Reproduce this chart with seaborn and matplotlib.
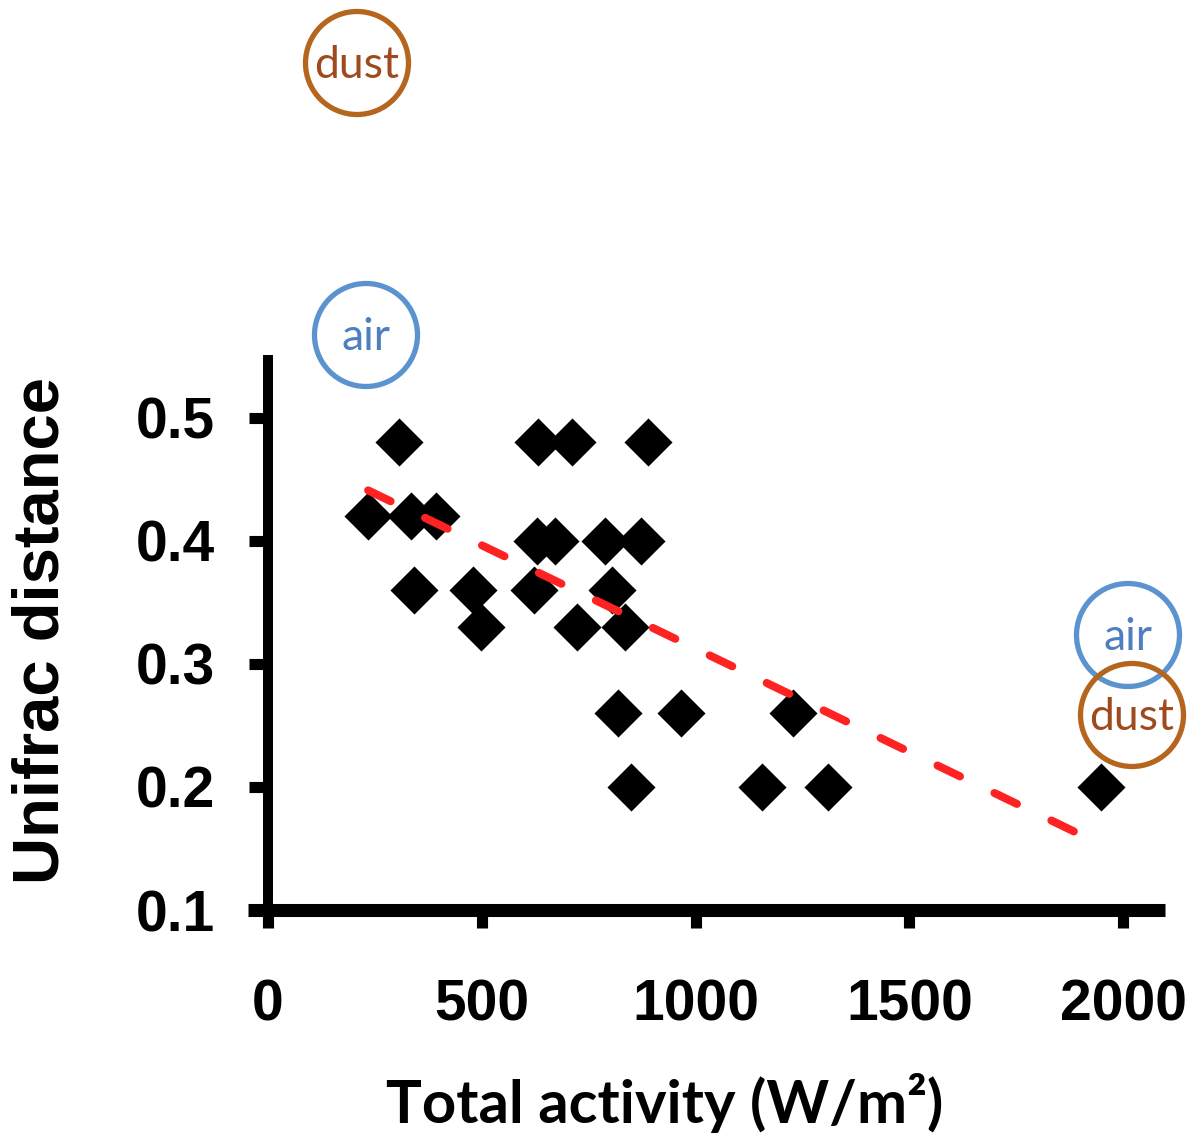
import matplotlib
matplotlib.use("Agg")
import matplotlib.pyplot as plt
import seaborn as sns
import pandas as pd
from matplotlib.patches import Circle

# ---- data ----
activity = [234, 306, 334, 393, 342, 480, 498,
            632, 711, 889,
            629, 671, 788, 873,
            622, 805, 723, 835,
            819, 967, 1228,
            850, 1155, 1310, 1948]
unifrac = [0.42, 0.48, 0.42, 0.42, 0.36, 0.36, 0.33,
           0.48, 0.48, 0.48,
           0.40, 0.40, 0.40, 0.40,
           0.36, 0.36, 0.33, 0.33,
           0.26, 0.26, 0.26,
           0.20, 0.20, 0.20, 0.20]
fit_x = [234, 1890]
fit_y = [0.441, 0.163]
x_ticks = [0, 500, 1000, 1500, 2000]
y_ticks = [0.1, 0.2, 0.3, 0.4, 0.5]
x_tick_labels = ["0", "500", "1000", "1500", "2000"]
y_tick_labels = ["0.1", "0.2", "0.3", "0.4", "0.5"]
circle_labels = ["dust", "air", "air", "dust"]

df = pd.DataFrame({"activity": activity, "unifrac": unifrac})

sns.set_theme(style="white")
plt.rcParams["font.family"] = ["Liberation Sans", "DejaVu Sans"]

W, H = 1193, 1134
fig = plt.figure(figsize=(W / 100, H / 100), dpi=100)
ax = fig.add_axes([248 / W, (H - 910) / H, (1165 - 248) / W, (910 - 355) / H])

sns.scatterplot(data=df, x="activity", y="unifrac", marker="D", s=34 ** 2 * 0.5184,
                color="black", linewidth=0, ax=ax, zorder=3)
ax.plot(fit_x, fit_y, color="#FF2222", linewidth=5.8, dashes=(3.1, 4.75),
        dash_capstyle="round", zorder=4)

ax.set_xlim(-47, 2098)
ax.set_ylim(0.1, 0.551)
ax.set_xticks(x_ticks)
ax.set_xticklabels(x_tick_labels)
ax.set_yticks(y_ticks)
ax.set_yticklabels(y_tick_labels)

for s in ["top", "right"]:
    ax.spines[s].set_visible(False)
ax.spines["left"].set_position(("data", 0))
ax.spines["left"].set_linewidth(7.2)
ax.spines["bottom"].set_linewidth(9.4)
ax.spines["left"].set_color("black")
ax.spines["bottom"].set_color("black")
ax.spines["left"].set_capstyle("butt")
ax.spines["bottom"].set_capstyle("butt")

ax.tick_params(axis="x", bottom=True, direction="out", length=13, width=8,
               color="black", pad=36, labelsize=41, labelcolor="black")
ax.tick_params(axis="y", left=True, direction="out", length=14, width=8,
               color="black", pad=24, labelsize=41, labelcolor="black")
for lab in ax.get_xticklabels() + ax.get_yticklabels():
    lab.set_fontweight("bold")
    lab.set_color("black")

ax.set_xlabel("Total activity (W/m²)", fontsize=43, fontweight="bold",
              family=["Lato", "DejaVu Sans"], va="center", color="black")
ax.xaxis.set_label_coords((665 - 248) / 917, -(1103 - 910) / 555)
ax.set_ylabel("Unifrac distance", fontsize=47, fontweight="bold", va="center",
              color="black")
ax.yaxis.set_label_coords((42 - 248) / 917, (910 - 630) / 555)

# circled annotations (figure pixel positions)
circ_specs = [
    (357, 63, "#B5651D", "#9E4A1E"),
    (366, 335, "#5B93CF", "#4F7FBF"),
    (1128, 635, "#5B93CF", "#4F7FBF"),
    (1132, 715, "#B5651D", "#9E4A1E"),
]
for (cx, cy, ec, tc), txt in zip(circ_specs, circle_labels):
    c = Circle((cx / 100, (H - cy) / 100), 0.515, transform=fig.dpi_scale_trans,
               fill=False, edgecolor=ec, linewidth=3.8, zorder=5)
    fig.patches.append(c)
    c.set_figure(fig)
    fig.text(cx / W, (H - cy - 2) / H, txt, ha="center", va="center", fontsize=32,
             color=tc, family=["Lato", "DejaVu Sans"])

fig.savefig("out.png", dpi=100)
